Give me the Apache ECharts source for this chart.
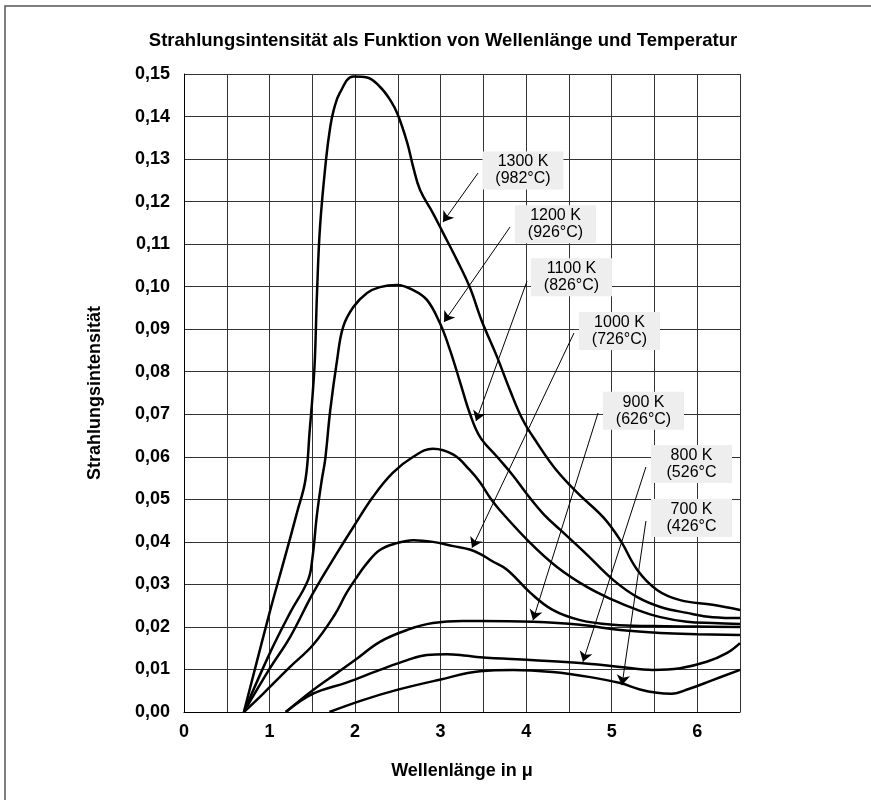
<!DOCTYPE html>
<html><head><meta charset="utf-8">
<script src="https://cdn.jsdelivr.net/npm/echarts@6/dist/echarts.min.js"></script>
<style>html,body{margin:0;padding:0;background:#fff}#c{width:871px;height:800px}</style>
</head><body><div id="c"></div><script>
// Wavelength (µ) and radiation intensity per temperature curve
const wl1300 = [0.70, 1.00, 1.18, 1.32, 1.42, 1.47, 1.505, 1.53, 1.555, 1.59, 1.66, 1.71, 1.75, 1.82, 1.98, 2.14, 2.29, 2.41, 2.50, 2.61, 2.68, 2.76, 2.91, 3.03, 3.19, 3.34, 3.48, 3.66, 3.81, 3.96, 4.13, 4.34, 4.60, 4.90, 5.10, 5.30, 5.53, 5.80, 6.18, 6.50];
const in1300 = [0, 0.0233, 0.0364, 0.0468, 0.0546, 0.0663, 0.075, 0.083, 0.0985, 0.114, 0.1298, 0.1376, 0.1415, 0.1455, 0.1494, 0.1492, 0.147, 0.1439, 0.1404, 0.1338, 0.1281, 0.1227, 0.1173, 0.1126, 0.1063, 0.0999, 0.092, 0.0835, 0.0757, 0.0687, 0.0632, 0.0572, 0.0515, 0.0458, 0.0404, 0.0334, 0.0287, 0.0263, 0.0252, 0.0240];

const wl1200 = [0.70, 1.005, 1.24, 1.45, 1.50, 1.555, 1.61, 1.65, 1.71, 1.79, 1.86, 1.98, 2.14, 2.29, 2.49, 2.68, 2.84, 2.99, 3.11, 3.23, 3.34, 3.46, 3.66, 3.85, 4.01, 4.20, 4.40, 4.71, 5.02, 5.30, 5.57, 5.88, 6.18, 6.50];
const in1200 = [0, 0.0139, 0.0233, 0.031, 0.036, 0.0465, 0.0545, 0.0593, 0.071, 0.0828, 0.0905, 0.0952, 0.0985, 0.0999, 0.1004, 0.0992, 0.0969, 0.0915, 0.0851, 0.0774, 0.0703, 0.0647, 0.060, 0.0555, 0.0512, 0.0466, 0.0428, 0.037, 0.031, 0.027, 0.0247, 0.0233, 0.0223, 0.0221];

const wl1100 = [0.70, 1.005, 1.24, 1.51, 1.79, 1.98, 2.21, 2.44, 2.68, 2.91, 3.15, 3.34, 3.46, 3.58, 3.69, 4.05, 4.36, 4.71, 5.02, 5.30, 5.57, 5.88, 6.18, 6.50];
const in1100 = [0, 0.0103, 0.0176, 0.028, 0.0374, 0.0435, 0.0506, 0.0562, 0.060, 0.0619, 0.0605, 0.0569, 0.054, 0.0503, 0.0475, 0.0397, 0.0341, 0.0294, 0.0263, 0.024, 0.0223, 0.0212, 0.0209, 0.0207];

const wl1000 = [0.70, 0.93, 1.24, 1.51, 1.76, 1.90, 2.02, 2.14, 2.29, 2.49, 2.68, 2.91, 3.15, 3.34, 3.46, 3.60, 3.78, 4.05, 4.31, 4.63, 5.02, 5.48, 6.00, 6.50];
const in1000 = [0, 0.0044, 0.0106, 0.0158, 0.0228, 0.028, 0.0317, 0.035, 0.0381, 0.0397, 0.0404, 0.040, 0.0390, 0.0382, 0.0372, 0.0355, 0.0334, 0.028, 0.024, 0.0216, 0.0205, 0.0202, 0.0201, 0.0200];

const wl900 = [1.19, 1.51, 1.79, 2.02, 2.29, 2.61, 2.91, 3.26, 3.46, 4.08, 4.63, 5.10, 5.57, 6.00, 6.50];
const in900 = [0, 0.0052, 0.0092, 0.0125, 0.0165, 0.0193, 0.0209, 0.0214, 0.0214, 0.0212, 0.0205, 0.0193, 0.0186, 0.0183, 0.0181];

const wl800 = [1.19, 1.51, 1.90, 2.29, 2.61, 2.84, 3.07, 3.31, 3.46, 4.05, 4.63, 5.10, 5.48, 5.80, 6.11, 6.35, 6.50];
const in800 = [0, 0.0043, 0.0069, 0.0099, 0.0122, 0.0134, 0.0136, 0.0132, 0.0129, 0.0122, 0.0115, 0.0106, 0.0099, 0.0103, 0.0118, 0.0139, 0.0162];

const wl700 = [1.70, 2.09, 2.49, 2.99, 3.46, 3.85, 4.31, 4.75, 5.10, 5.33, 5.53, 5.70, 5.90, 6.18, 6.50];
const in700 = [0, 0.0028, 0.0052, 0.0076, 0.0096, 0.0099, 0.0094, 0.0082, 0.0068, 0.0053, 0.0045, 0.0043, 0.0054, 0.0075, 0.0099];

// Annotation labels (text, anchor position in data units)
const labelTexts = ['1300 K\n(982°C)', '1200 K\n(926°C)', '1100 K\n(826°C)', '1000 K\n(726°C)', '900 K\n(626°C)', '800 K\n(526°C', '700 K\n(426°C'];
const labelX = [3.963, 4.343, 4.530, 5.091, 5.372, 5.933, 5.933];
const labelY = [0.1273, 0.1147, 0.1022, 0.0896, 0.0708, 0.0583, 0.0456];
// Arrow start / end points in data units
const arrowX1 = [3.437, 3.811, 4.010, 4.559, 4.840, 5.400, 5.400];
const arrowY1 = [0.1267, 0.1140, 0.1013, 0.0891, 0.0703, 0.0576, 0.0449];
const arrowX2 = [3.028, 3.040, 3.414, 3.367, 4.080, 4.664, 5.120];
const arrowY2 = [0.1152, 0.0917, 0.0684, 0.0386, 0.0216, 0.0118, 0.0063];

const xTickStep = 0.5, yTickStep = 0.01;
const FONT = '"Liberation Sans", Arial, sans-serif';

const curves = [[wl1300, in1300], [wl1200, in1200], [wl1100, in1100], [wl1000, in1000], [wl900, in900], [wl800, in800], [wl700, in700]];
const pair = (xs, ys) => xs.map((x, i) => [x, ys[i]]);

const series = curves.map(c => ({
  type: 'line', data: pair(c[0], c[1]), showSymbol: false, smooth: 0.4,
  lineStyle: { color: '#000', width: 2.5 }, z: 3, silent: true
}));
series.push({
  type: 'scatter', z: 5, silent: true, symbol: 'circle', symbolSize: 1, itemStyle: { color: '#eeeeee' },
  data: labelTexts.map((t, i) => ({ name: t, value: [labelX[i], labelY[i]] })),
  label: {
    show: true, position: 'inside', formatter: '{b}', backgroundColor: '#eeeeee',
    width: 81, lineHeight: 17, padding: [2, 0, 2, 0], align: 'center', verticalAlign: 'middle',
    color: '#000', fontSize: 16, fontFamily: FONT, opacity: 1
  },
  markLine: {
    silent: true, animation: false, symbol: ['none', 'arrow'], symbolSize: 10,
    lineStyle: { color: '#000', width: 1, type: 'solid' }, label: { show: false },
    data: arrowX1.map((x, i) => [{ coord: [x, arrowY1[i]] }, { coord: [arrowX2[i], arrowY2[i]] }])
  }
});

const chart = echarts.init(document.getElementById('c'));
chart.setOption({
  animation: false,
  backgroundColor: '#fff',
  title: {
    text: 'Strahlungsintensität als Funktion von Wellenlänge und Temperatur',
    left: 438, top: 26, textAlign: 'center',
    textStyle: { fontSize: 18.5, fontWeight: 'bold', color: '#000', fontFamily: FONT }
  },
  graphic: [{ type: 'rect', shape: { x: 5, y: 6, width: 900, height: 840 }, style: { fill: 'none', stroke: '#555', lineWidth: 1.5 }, silent: true }],
  grid: { left: 184, right: 131, top: 74, bottom: 88 },
  xAxis: {
    type: 'value', min: 0, max: 6.5, interval: xTickStep,
    name: 'Wellenlänge in μ', nameLocation: 'middle', nameGap: 50,
    nameTextStyle: { fontSize: 18, fontWeight: 'bold', color: '#000', fontFamily: FONT },
    axisLine: { show: true, lineStyle: { color: '#000', width: 1 } },
    axisTick: { show: false },
    axisLabel: { formatter: v => (Math.abs(v - Math.round(v)) < 1e-9 ? String(Math.round(v)) : ''), fontSize: 18, fontWeight: 'bold', color: '#000', fontFamily: FONT, margin: 11 },
    splitLine: { show: true, lineStyle: { color: '#333', width: 1 } }
  },
  yAxis: {
    type: 'value', min: 0, max: 0.15, interval: yTickStep,
    name: 'Strahlungsintensität', nameLocation: 'middle', nameGap: 80,
    nameTextStyle: { fontSize: 18, fontWeight: 'bold', color: '#000', fontFamily: FONT },
    axisLine: { show: true, lineStyle: { color: '#000', width: 1 } },
    axisTick: { show: false },
    axisLabel: { formatter: v => v.toFixed(2).replace('.', ','), fontSize: 18, fontWeight: 'bold', color: '#000', fontFamily: FONT, margin: 14 },
    splitLine: { show: true, lineStyle: { color: '#333', width: 1 } }
  },
  series: series
});
</script></body></html>
